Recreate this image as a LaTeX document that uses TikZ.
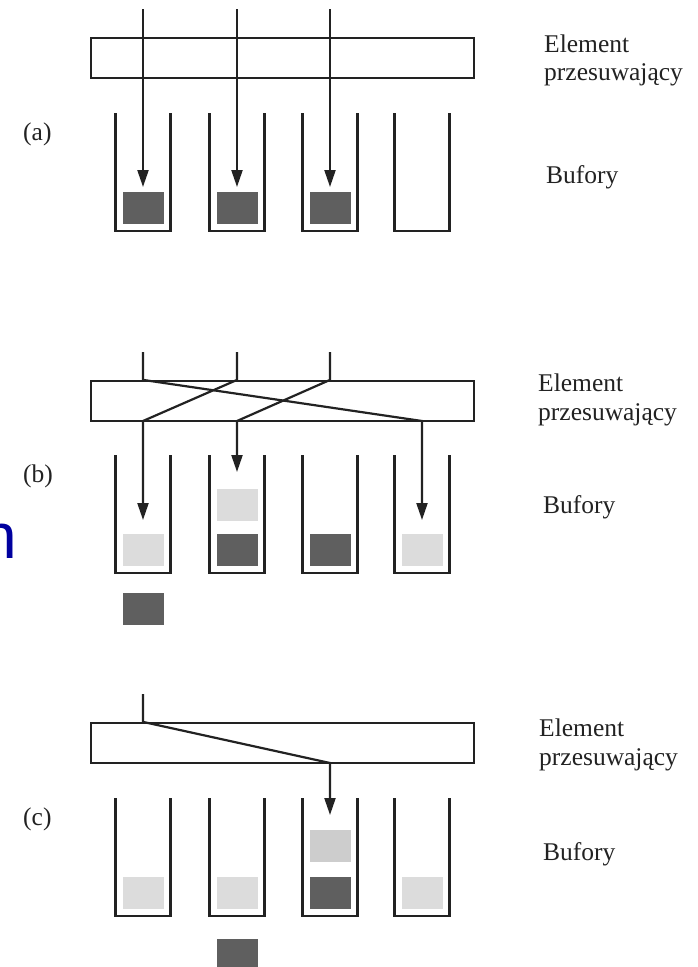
\documentclass[tikz,border=0pt]{standalone}
\usepackage{fontspec}
\setmainfont{Liberation Serif}
\newfontfamily\slidefont{Liberation Sans}
\usetikzlibrary{arrows.meta, positioning}
\definecolor{lineDark}{HTML}{222222}
\definecolor{packetDark}{HTML}{5F5F5F}
\definecolor{packetLight}{HTML}{DCDCDC}
\definecolor{packetMid}{HTML}{CDCDCD}
\definecolor{slideBlue}{HTML}{00009F}
\newcommand{\DrawBuffer}[2]{
    \draw[bufferLine] (#1-27.5, #2) -- (#1-27.5, #2+118) -- (#1+27.5, #2+118) -- (#1+27.5, #2);
}
\newcommand{\DrawPacket}[3]{
    \fill[#3] (#1-20.5, #2) rectangle (#1+20.5, #2+31.5);
}
\tikzset{
    % Lines
    wire/.style={draw=lineDark, line width=2.2pt},
    wireArrow/.style={wire, -{Triangle[length=17pt, width=11pt]}},
    bufferLine/.style={draw=lineDark, line width=2.2pt},
    % Boxes
    shifterBox/.style={rectangle, draw=lineDark, line width=2.2pt, minimum width=383pt, minimum height=40pt, inner sep=0pt},
    % Text
    sideLabel/.style={font=\fontsize{25.5}{29}\selectfont, text=lineDark, anchor=base west, inner sep=0pt},
    slideText/.style={font=\slidefont\fontsize{64}{64}\selectfont, text=slideBlue, anchor=base west, inner sep=0pt}
}
\begin{document}
\begin{tikzpicture}[x=1pt, y=-1pt]
    \useasboundingbox (0,0) rectangle (697,967);
    \clip (0,0) rectangle (697,967);

    % (a)
    \node[shifterBox] (shiftA) at (282.5,58) {};
    \foreach \x in {143,237,330,422} \DrawBuffer{\x}{113};
    \foreach \x in {143,237,330} \DrawPacket{\x}{192}{packetDark};
    \coordinate (aIn1) at (143,9);  \coordinate (aEnd1) at (143,187);
    \coordinate (aIn2) at (237,9);  \coordinate (aEnd2) at (237,187);
    \coordinate (aIn3) at (330,9);  \coordinate (aEnd3) at (330,187);
    \draw[wireArrow] (aIn1) -- (aEnd1);
    \draw[wireArrow] (aIn2) -- (aEnd2);
    \draw[wireArrow] (aIn3) -- (aEnd3);
    \node[sideLabel] (labA) at (23,140) {(a)};
    \node[sideLabel] (elemA) at (544,52) {Element};
    \node[sideLabel] (przesA) at ([yshift=-28pt]elemA.base west) {przesuwający};
    \node[sideLabel] (bufA) at (546,183) {Bufory};

    % (b)
    \node[shifterBox] (shiftB) at (282.5,401) {};
    \foreach \x in {143,237,330,422} \DrawBuffer{\x}{455};
    \DrawPacket{143}{534}{packetLight}
    \DrawPacket{237}{534}{packetDark}
    \DrawPacket{330}{534}{packetDark}
    \DrawPacket{422}{534}{packetLight}
    \DrawPacket{237}{489}{packetLight}
    \DrawPacket{143}{593}{packetDark}
    \coordinate (bIn1) at (143,352);  \coordinate (bOut1) at (422,421);  \coordinate (bEnd1) at (422,520);
    \coordinate (bIn2) at (237,352);  \coordinate (bOut2) at (143,421);  \coordinate (bEnd2) at (143,520);
    \coordinate (bIn3) at (330,352);  \coordinate (bOut3) at (237,421);  \coordinate (bEnd3) at (237,472);
    \draw[wireArrow] (bIn1) -- (bIn1 |- shiftB.north) -- (bOut1) -- (bEnd1);
    \draw[wireArrow] (bIn2) -- (bIn2 |- shiftB.north) -- (bOut2) -- (bEnd2);
    \draw[wireArrow] (bIn3) -- (bIn3 |- shiftB.north) -- (bOut3) -- (bEnd3);
    \node[sideLabel] (labB) at (23,482) {(b)};
    \node[sideLabel] (elemB) at (538,391) {Element};
    \node[sideLabel] (przesB) at ([yshift=-29pt]elemB.base west) {przesuwający};
    \node[sideLabel] (bufB) at (543,513) {Bufory};
    \node[slideText] (slideN) at (-19.2,558) {n};

    % (c)
    \node[shifterBox] (shiftC) at (282.5,743) {};
    \foreach \x in {143,237,330,422} \DrawBuffer{\x}{798};
    \DrawPacket{143}{877}{packetLight}
    \DrawPacket{237}{877}{packetLight}
    \DrawPacket{330}{877}{packetDark}
    \DrawPacket{422}{877}{packetLight}
    \DrawPacket{330}{830}{packetMid}
    \DrawPacket{237}{939}{packetDark}
    \coordinate (cIn1) at (143,694);  \coordinate (cOut1) at (330,763);  \coordinate (cEnd1) at (330,815);
    \draw[wireArrow] (cIn1) -- (cIn1 |- shiftC.north) -- (cOut1) -- (cEnd1);
    \node[sideLabel] (labC) at (23,825) {(c)};
    \node[sideLabel] (elemC) at (539,736) {Element};
    \node[sideLabel] (przesC) at ([yshift=-29pt]elemC.base west) {przesuwający};
    \node[sideLabel] (bufC) at (543,860) {Bufory};
\end{tikzpicture}
\end{document}
